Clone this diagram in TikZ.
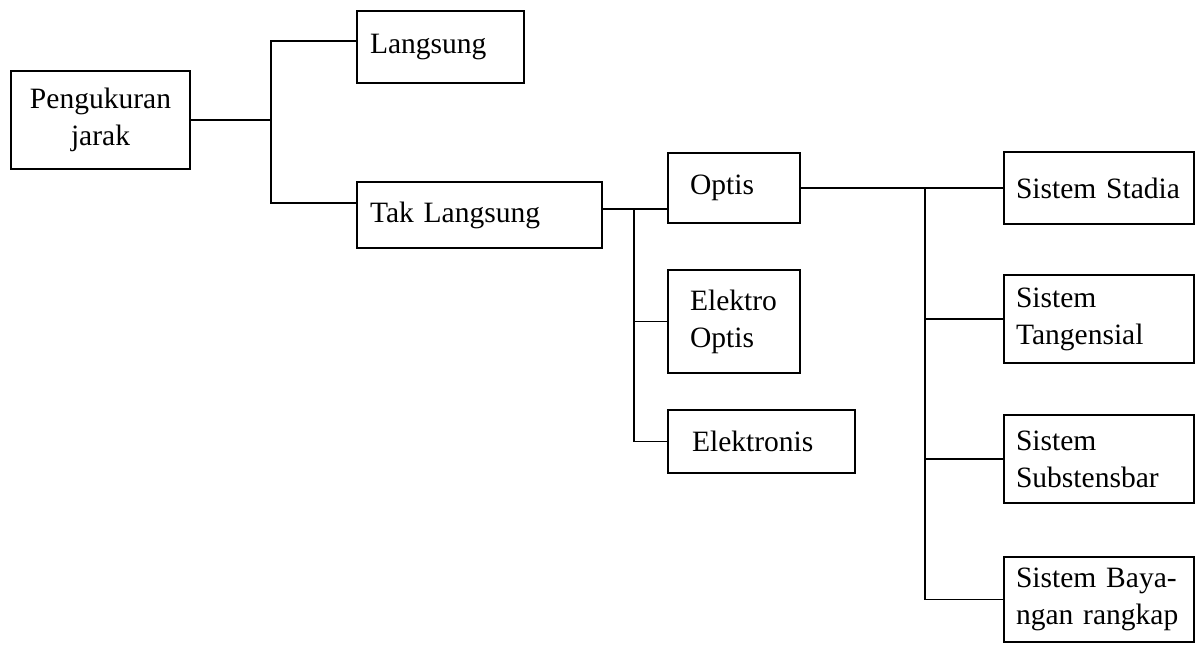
\documentclass[tikz,border=0pt]{standalone}
\usepackage{fontspec}
\setmainfont{Liberation Serif}

\tikzset{
  box/.style={draw,line width=1.05pt,inner ysep=2pt,align=left,
    font=\fontsize{16.8}{21}\selectfont},
  sysbox/.style={box,inner xsep=0.24cm,text width=3.32cm},
  link/.style={line width=1.05pt}
}

\begin{document}
\begin{tikzpicture}
\useasboundingbox (0,0) rectangle (24,-12.88);
% level 1 and 2
\node[box,align=center,minimum width=3.58cm,minimum height=1.96cm] (peng) at (2.01,-2.40) {Pengukuran\\jarak};
\node[box,inner xsep=0.26cm,text width=2.82cm,minimum height=1.44cm] (lang) at (8.81,-0.94) {Langsung};
\node[box,inner xsep=0.26cm,text width=4.38cm,minimum height=1.32cm] (tak) at (9.59,-4.30) {Tak Langsung};
% methods
\node[box,inner xsep=0.44cm,text width=1.76cm,minimum height=1.40cm] (optis) at (14.68,-3.76) {Optis};
\node[box,inner xsep=0.44cm,text width=1.76cm,minimum height=2.06cm] (elop) at (14.68,-6.43) {Elektro\\Optis};
\node[box,inner xsep=0.48cm,text width=2.78cm,minimum height=1.26cm] (elek) at (15.23,-8.83) {Elektronis};
% optical systems
\node[sysbox,minimum height=1.44cm] (stadia) at (21.98,-3.76) {Sistem Stadia};
\node[sysbox,minimum height=1.76cm] (tang) at (21.98,-6.38) {Sistem\\Tangensial};
\node[sysbox,minimum height=1.76cm] (subs) at (21.98,-9.18) {Sistem\\Substensbar};
\node[sysbox,minimum height=1.70cm] (bay) at (21.98,-11.99) {Sistem Baya-\\ngan rangkap};

% connectors
\draw[link] (peng.east) -- ++(1.6,0) coordinate (j1);
\draw[link] ([yshift=0.12cm]lang.west) -| (j1) |- ([yshift=0.24cm]tak.west);
\draw[link] ([yshift=0.12cm]tak.east) -- ++(0.62,0) coordinate (j2) -- (j2 -| optis.west);
\draw[link] (j2) |- (elop.west);
\draw[link] (j2) |- (elek.west);
\draw[link] (optis.east) -- ++(2.48,0) coordinate (j3) -- (stadia.west);
\draw[link] (j3) |- (tang.west);
\draw[link] (j3) |- (subs.west);
\draw[link] (j3) |- (bay.west);
\end{tikzpicture}
\end{document}
